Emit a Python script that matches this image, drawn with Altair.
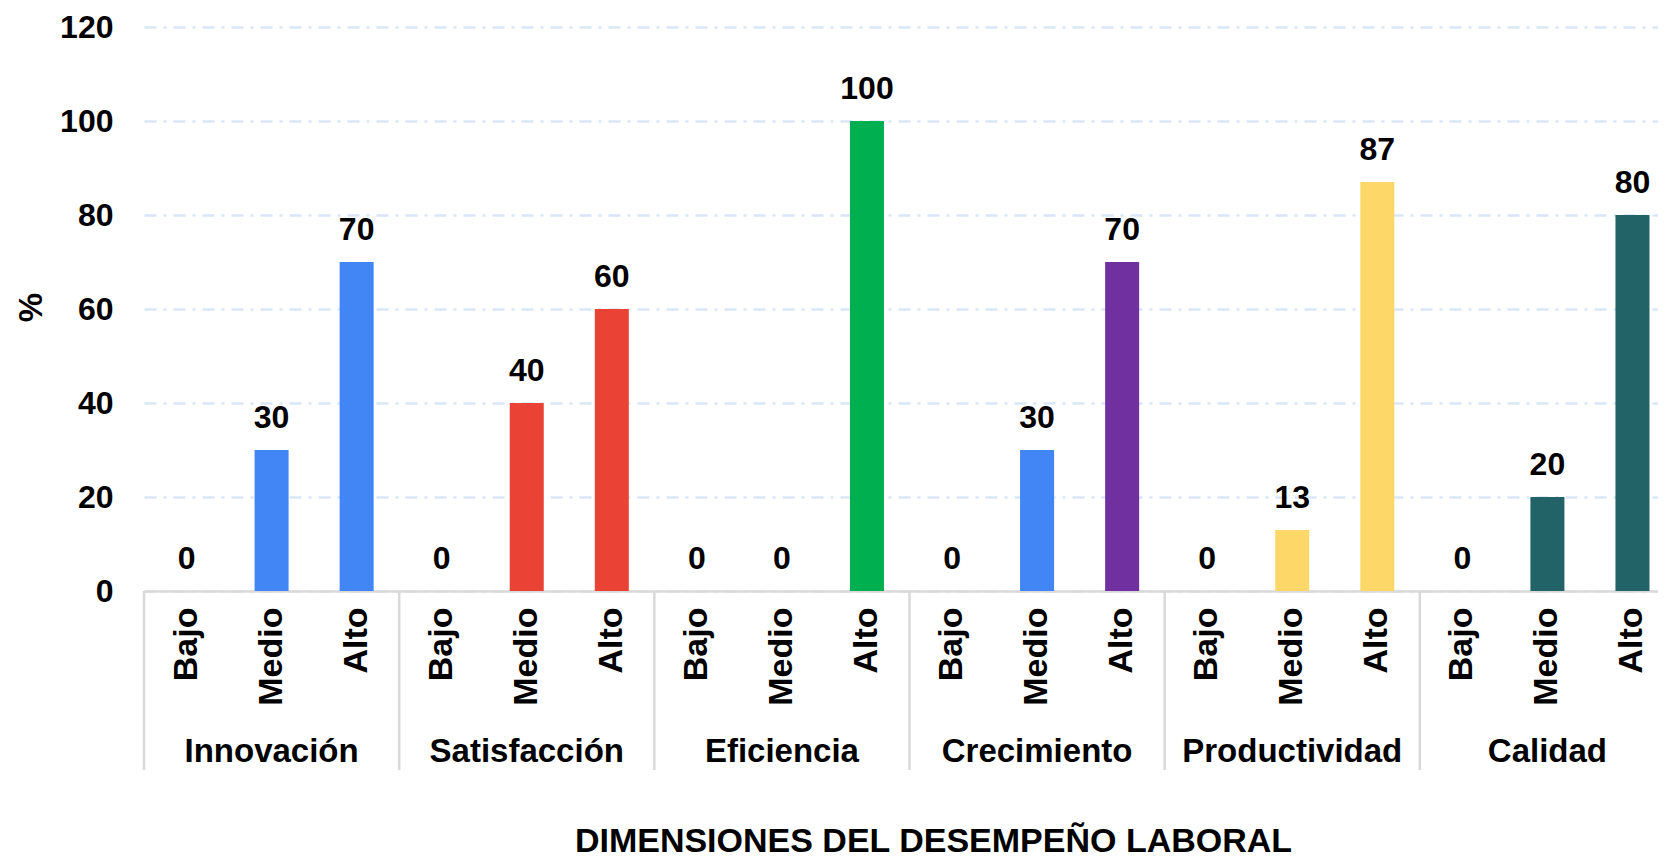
import altair as alt
import pandas as pd

groups = ["Innovación", "Satisfacción", "Eficiencia", "Crecimiento", "Productividad", "Calidad"]
levels = ["Bajo", "Medio", "Alto"]
values = [
    [0, 30, 70],
    [0, 40, 60],
    [0, 0, 100],
    [0, 30, 70],
    [0, 13, 87],
    [0, 20, 80],
]
BLUE, RED, GREEN, PURPLE, YELLOW, TEAL = "#4285F4", "#EA4335", "#00B050", "#7030A0", "#FDD869", "#216367"
colors = [
    [BLUE, BLUE, BLUE],
    [RED, RED, RED],
    [GREEN, GREEN, GREEN],
    [BLUE, BLUE, PURPLE],
    [YELLOW, YELLOW, YELLOW],
    [TEAL, TEAL, TEAL],
]
y_ticks = [0, 20, 40, 60, 80, 100, 120]

rows = []
for gi, g in enumerate(groups):
    for li, lv in enumerate(levels):
        rows.append({"key": f"{g}|{lv}", "group": g, "level": lv,
                     "value": values[gi][li], "color": colors[gi][li]})
df = pd.DataFrame(rows)
order = list(df["key"])

FONT = "Liberation Sans"
H = 564

x_axis = alt.Axis(
    title="DIMENSIONES DEL DESEMPEÑO LABORAL",
    labelExpr="split(datum.label, '|')[1]",
    labelAngle=-90, labelFontSize=34, labelFontWeight="bold", labelColor="black",
    labelPadding=16, labelFont=FONT,
    ticks=False, domainColor="#d9d9d9", domainWidth=2.5,
    titleFontSize=34, titleFontWeight="bold", titleFont=FONT, titleColor="black",
    titleX=789, titleY=260, titleBaseline="alphabetic", titleAlign="center",
    grid=False,
)
x_scale = alt.Scale(range=[0, 1531], paddingInner=0, paddingOuter=0)

def X(**kw):
    return alt.X("key:N", sort=order, scale=x_scale, axis=x_axis, **kw)

y = alt.Y("value:Q",
          scale=alt.Scale(domain=[0, 120], nice=False),
          axis=alt.Axis(title="%", values=y_ticks, domain=False, ticks=False,
                        labelFontSize=32, labelFontWeight="bold", labelColor="black",
                        labelFont=FONT, labelPadding=31,
                        gridColor="#dae6f8", gridWidth=2.5, gridDash=[12, 7, 3, 7],
                        titleFontSize=33, titleFontWeight="bold", titleFont=FONT,
                        titleColor="black", titleX=-113, titleY=280,
                        titleBaseline="middle", titleAngle=-90))

base = alt.Chart(df)

bars = base.mark_bar(width=alt.RelativeBandSize(0.4)).encode(
    x=X(), y=y, color=alt.Color("color:N", scale=None))

labels = base.mark_text(font=FONT, fontSize=32, fontWeight="bold", color="black",
                        baseline="alphabetic", dy=-22).encode(
    x=X(), y=y, text=alt.Text("value:Q"))

group_labels = base.transform_filter(alt.datum.level == "Medio").mark_text(
    font=FONT, fontSize=33, fontWeight="bold", color="black", baseline="alphabetic").encode(
    x=X(), y=alt.value(H + 171), text="group:N")

seps = base.transform_filter(alt.datum.level == "Bajo").mark_rule(
    color="#d9d9d9", strokeWidth=2.5).encode(
    x=X(bandPosition=0), y=alt.value(H), y2=alt.value(H + 179))

chart = alt.layer(seps, bars, labels, group_labels).properties(
    width=1514, height=H,
    autosize=alt.AutoSizeParams(type="none"),
    padding={"left": 136, "top": 19, "right": 0, "bottom": 268},
).configure_view(stroke=None)

chart.save("out.html", embed_options={"renderer": "svg", "actions": False})
